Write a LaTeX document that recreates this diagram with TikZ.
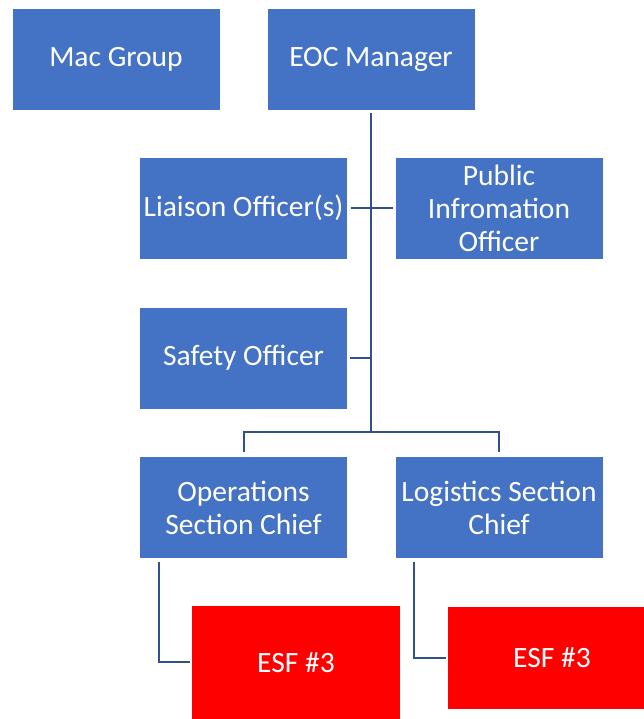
\documentclass[tikz,border=0pt]{standalone}
\usepackage{fontspec}
\setmainfont{Carlito}
\definecolor{boxBlue}{RGB}{68,114,196}
\definecolor{lineBlue}{RGB}{47,82,143}
\definecolor{esfRed}{RGB}{255,0,0}

\begin{document}
\begin{tikzpicture}[x=1pt,y=1pt]
\useasboundingbox (0,0) rectangle (644,719);
\clip (0,0) rectangle (644,719);
\tikzset{
  role/.style={rectangle,fill=boxBlue,draw=white,line width=0.6pt,minimum width=208pt,minimum height=102pt,inner sep=0pt,align=center,text=white,font=\fontsize{29.5}{33}\selectfont},
  esf/.style={role,fill=esfRed,draw=none},
  link/.style={draw=lineBlue,line width=2pt}
}
% Top row
\node[role] (mac) at (116,660) {Mac Group};
\node[role] (eoc) at (371,660) {EOC Manager};
% Command staff
\node[role] (liaison) at (243.5,511) {Liaison Officer(s)};
\node[role] (public) at (499,511) {Public\\Infromation\\Officer};
\node[role] (safety) at (243.5,361) {Safety Officer};
% Section chiefs
\node[role] (ops) at (243.5,211.5) {Operations\\Section Chief};
\node[role] (log) at (499,211.5) {Logistics Section\\Chief};
% ESF boxes
\node[esf,minimum height=113pt] (esfA) at (296,56.5) {ESF \#3};
\node[esf] (esfB) at (552,61) {ESF \#3};
% Connections
\coordinate (bus) at (371,287);
\draw[link,shorten <=3pt] (eoc.south) -- (bus);
\draw[link,shorten <=3pt,shorten >=2pt] (liaison.east) -- (public.west);
\draw[link,shorten <=2pt] (safety.east) -- (safety.east -| bus);
\draw[link,shorten <=4pt,shorten >=4pt] (ops.north) |- (bus) -| (log.north);
\draw[link,shorten <=3pt,shorten >=2pt] ([xshift=-85pt]ops.south) |- (esfA.west);
\draw[link,shorten <=3pt,shorten >=2pt] ([xshift=-85pt]log.south) |- (esfB.west);
\end{tikzpicture}
\end{document}
